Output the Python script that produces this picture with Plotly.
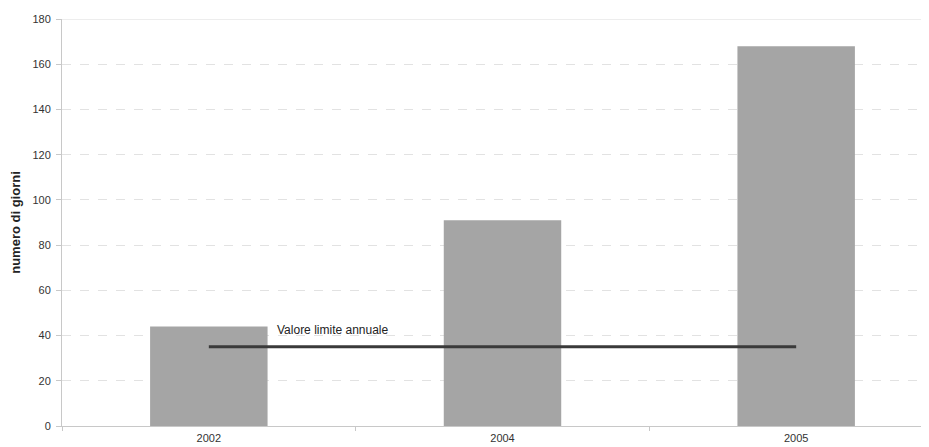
import plotly.graph_objects as go

# Data
anni = ['2002', '2004', '2005']
giorni = [44, 91, 168]
limite_annuale = [35, 35, 35]
y_ticks = [0, 20, 40, 60, 80, 100, 120, 140, 160, 180]

bar_color = '#a5a5a5'
line_color = '#3a3a3a'

fig = go.Figure()

fig.add_trace(go.Bar(
    x=anni,
    y=giorni,
    marker_color=bar_color,
    marker_line_width=0,
    width=0.4,
    showlegend=False
))

fig.add_trace(go.Scatter(
    x=anni,
    y=limite_annuale,
    mode='lines',
    line=dict(color=line_color, width=3),
    showlegend=False
))

fig.update_layout(
    width=935,
    height=447,
    margin=dict(l=54, r=0, t=11, b=29),
    paper_bgcolor='white',
    plot_bgcolor='white',
    font=dict(family='Arial, Liberation Sans, sans-serif', size=11, color='#333333'),
    xaxis=dict(
        type='category',
        range=[-0.5, 2.5],
        showgrid=False,
        showline=True,
        linecolor='#c8c8c8',
        linewidth=1,
        ticks='outside',
        tickson='boundaries',
        ticklen=4,
        tickcolor='#c8c8c8',
        ticklabelstandoff=2,
        tickfont=dict(size=11, color='#333333'),
    ),
    yaxis=dict(
        range=[0, 180],
        tickvals=y_ticks,
        showgrid=True,
        gridcolor='#e2e2e2',
        griddash='dash',
        gridwidth=1,
        showline=True,
        linecolor='#c8c8c8',
        linewidth=1,
        ticks='outside',
        ticklen=5,
        tickcolor='#c8c8c8',
        ticklabelstandoff=3,
        tickfont=dict(size=11, color='#333333'),
        zeroline=False,
        title=dict(text='<b>numero di giorni</b>', font=dict(size=13, color='#222222'), standoff=8)
    ),
    annotations=[dict(
        x=0, y=limite_annuale[0],
        xref='x', yref='y',
        text='Valore limite annuale',
        showarrow=False,
        xanchor='left', yanchor='bottom',
        xshift=66, yshift=8,
        font=dict(family='Arial, Liberation Sans, sans-serif', size=12, color='#222222')
    )],
    shapes=[dict(type='line', xref='paper', yref='y', x0=0, x1=1, y0=180, y1=180,
                 line=dict(color='#dcdcdc', width=1))]
)

fig.write_html("out.html")
